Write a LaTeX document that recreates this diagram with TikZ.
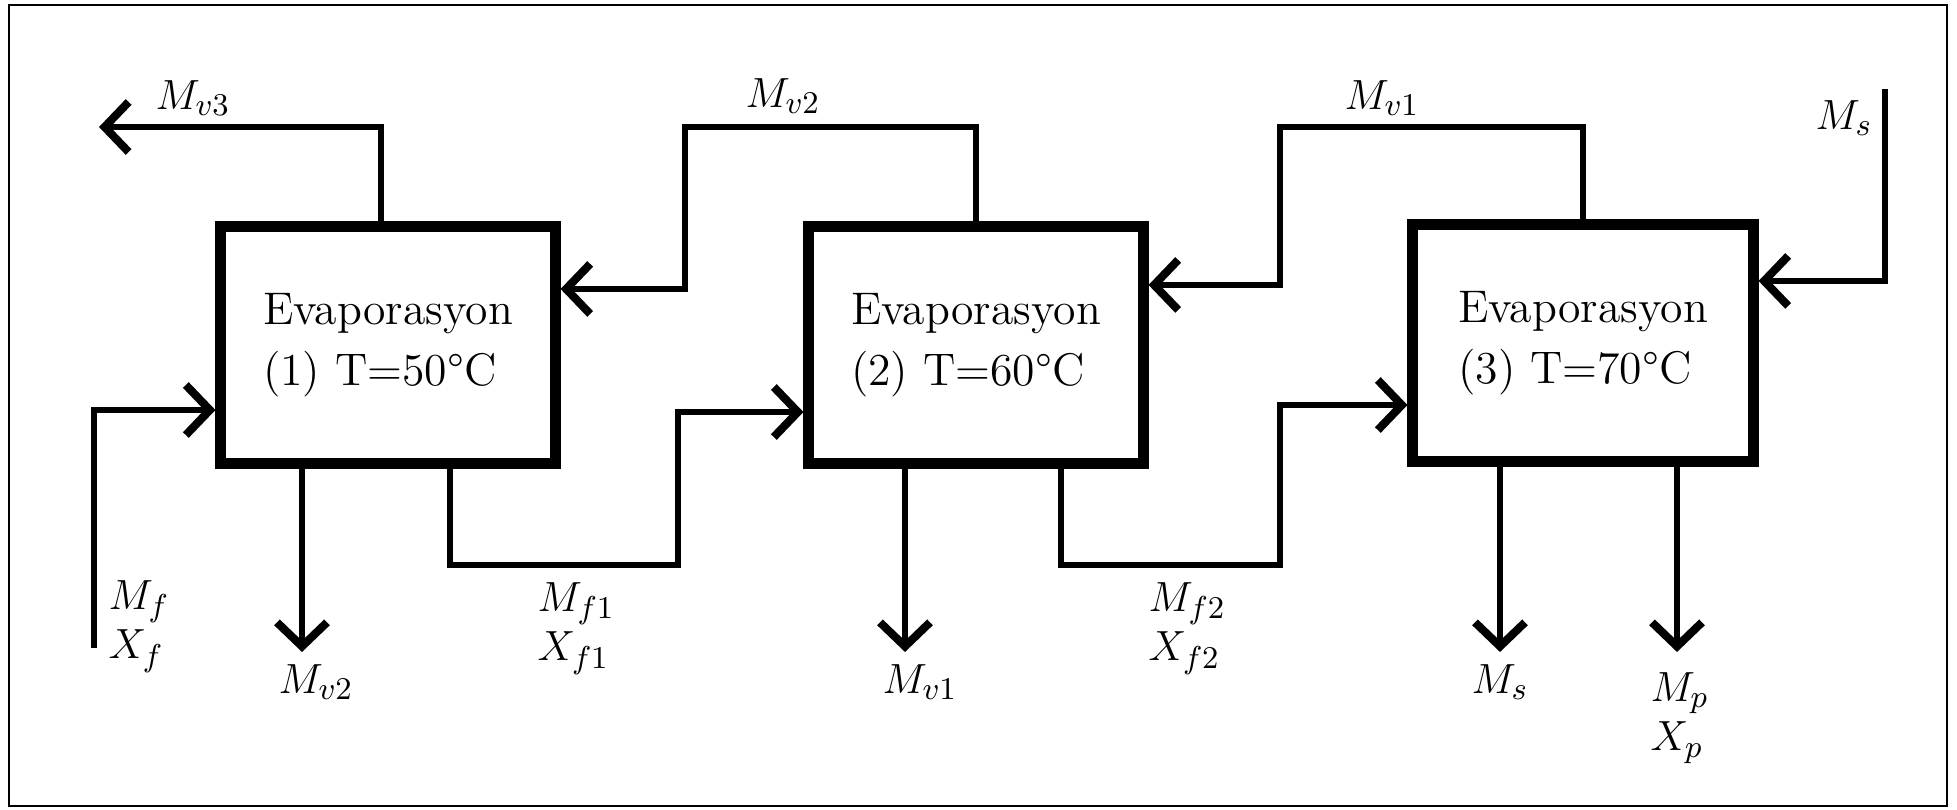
\documentclass[tikz,border=0pt]{standalone}
\usetikzlibrary{arrows.meta,positioning}

\begin{document}
\begin{tikzpicture}[x=0.01cm,y=0.01cm,
  evap/.style={draw,line width=3.1pt,minimum width=3.34cm,minimum height=2.37cm,
    align=left,font=\fontsize{13}{17.5}\selectfont},
  pipe/.style={line width=1.55pt},
  flow/.style={pipe,-{Straight Barb[length=0.24cm,width=0.5cm,line width=2.3pt]}},
  lbl/.style={font=\fontsize{13}{14}\selectfont,inner sep=0pt,align=left}]

  \useasboundingbox (0,0) rectangle (1957,810);
  %Frame
  \draw[line width=0.6pt] (9,4) rectangle (1947,805);

  %Evaporators
  \node[evap] (ev1) at (388,465) {Evaporasyon\\(1) T=50\textdegree C};
  \node[evap] (ev2) at (976,465) {Evaporasyon\\(2) T=60\textdegree C};
  \node[evap,minimum width=3.4cm] (ev3) at (1583,467) {Evaporasyon\\(3) T=70\textdegree C};

  %Free ends and bends
  \coordinate (v3end) at (99,683);
  \coordinate (v2bend) at (685,683);
  \coordinate (v1bend) at (1280,683);
  \coordinate (fin) at (94,162);
  \coordinate (f1bend) at (678,245);
  \coordinate (f2bend) at (1280,245);
  \coordinate (msin) at (1885,721);
  \coordinate (v2out) at (302,158);
  \coordinate (v1out) at (905,158);
  \coordinate (msout) at (1500,158);
  \coordinate (mpout) at (1677,158);

  %Vapour lines (top)
  \draw[flow] ([xshift=-0.07cm]ev1.north) |- (v3end);
  \draw[flow] (ev2.north) |- (v2bend) |- ([yshift=0.56cm]ev1.east);
  \draw[flow] (ev3.north) |- (v1bend) |- ([yshift=0.60cm]ev2.east);
  \draw[flow] (msin) |- ([yshift=0.62cm]ev3.east);

  %Feed lines
  \draw[flow] (fin) |- ([yshift=-0.65cm]ev1.west);
  \draw[flow] ([xshift=0.62cm]ev1.south) |- (f1bend) |- ([yshift=-0.67cm]ev2.west);
  \draw[flow] ([xshift=0.85cm]ev2.south) |- (f2bend) |- ([yshift=-0.62cm]ev3.west);

  %Outlets (bottom)
  \draw[flow] (ev1.south -| v2out) -- (v2out);
  \draw[flow] (ev2.south -| v1out) -- (v1out);
  \draw[flow] (ev3.south -| msout) -- (msout);
  \draw[flow] (ev3.south -| mpout) -- (mpout);

  %Labels
  \node[lbl] (lv3) at (193,712) {$M_{v3}$};
  \node[lbl] (lv2top) at (783,714) {$M_{v2}$};
  \node[lbl] (lv1top) at (1382,712) {$M_{v1}$};
  \node[lbl] (lmstop) at (1844,692) {$M_{s}$};
  \node[lbl,anchor=north west] (lf) at (108,230) {$M_f$\\$X_f$};
  \node[lbl,anchor=north west] (lf1) at (537,228) {$M_{f1}$\\$X_{f1}$};
  \node[lbl,anchor=north west] (lf2) at (1148,228) {$M_{f2}$\\$X_{f2}$};
  \node[lbl,below=0.12cm of v2out,xshift=0.14cm] (lv2) {$M_{v2}$};
  \node[lbl,below=0.12cm of v1out,xshift=0.15cm] (lv1) {$M_{v1}$};
  \node[lbl,below=0.12cm of msout] (lms) {$M_{s}$};
  \node[lbl,anchor=north west] (lp) at (1650,138) {$M_p$\\$X_p$};
\end{tikzpicture}
\end{document}
